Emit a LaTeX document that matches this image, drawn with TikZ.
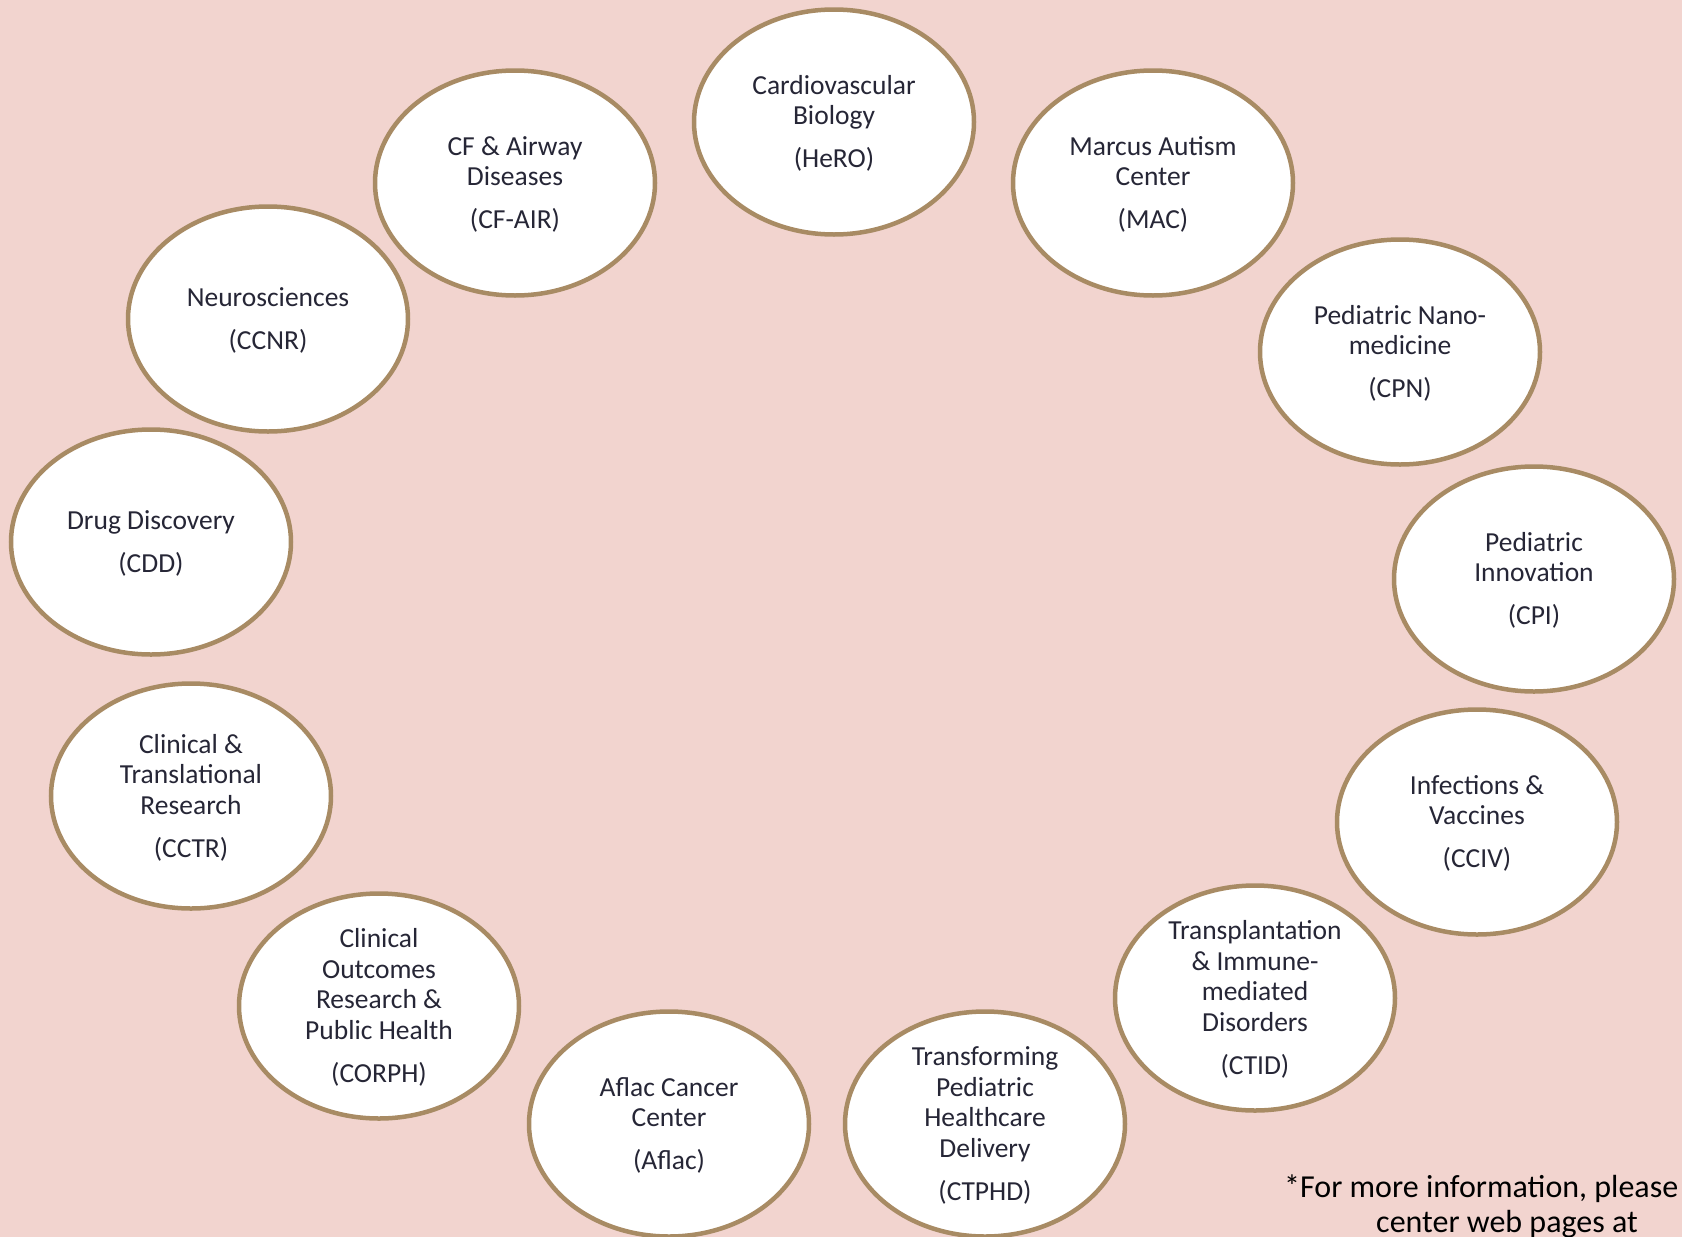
\documentclass[tikz,border=0pt]{standalone}
\usepackage{fontspec}
\setmainfont{Carlito}
\usetikzlibrary{shapes.geometric}
\definecolor{bg}{HTML}{F2D4CF}
\definecolor{rim}{HTML}{A88B64}
\definecolor{ink}{HTML}{262636}
\begin{document}
\begin{tikzpicture}[x=1pt,y=-1pt,
  hub/.style={ellipse, draw=rim, line width=4.5pt, fill=white,
    minimum width=280pt, minimum height=225pt, inner sep=0pt},
  lbl/.style={text=ink, align=center, inner sep=0pt, yshift=-1.5pt,
    font=\fontsize{27.5}{30.5}\selectfont},
  foot/.style={text=black, anchor=base west, inner sep=0pt,
    font=\fontsize{32}{35}\selectfont}]
\useasboundingbox (0,0) rectangle (1682,1237);
\clip (0,0) rectangle (1682,1237);
\fill[bg] (0,0) rectangle (1682,1237);

\node[hub] (hero) at (834,122) {};
\node[lbl] (hero-t) at (hero) {Cardiovascular\\Biology\\[12.5pt](HeRO)};

\node[hub] (cfair) at (515,183) {};
\node[lbl] (cfair-t) at (cfair) {CF \& Airway\\Diseases\\[12.5pt](CF-AIR)};

\node[hub] (mac) at (1153,183) {};
\node[lbl] (mac-t) at (mac) {Marcus Autism\\Center\\[12.5pt](MAC)};

\node[hub] (ccnr) at (268,319) {};
\node[lbl] (ccnr-t) at (ccnr) {Neurosciences\\[12.5pt](CCNR)};

\node[hub] (cpn) at (1400,352) {};
\node[lbl] (cpn-t) at (cpn) {Pediatric Nano-\\medicine\\[12.5pt](CPN)};

\node[hub] (cdd) at (151,542) {};
\node[lbl] (cdd-t) at (cdd) {Drug Discovery\\[12.5pt](CDD)};

\node[hub] (cpi) at (1534,579) {};
\node[lbl] (cpi-t) at (cpi) {Pediatric\\Innovation\\[12.5pt](CPI)};

\node[hub] (cctr) at (191,796) {};
\node[lbl] (cctr-t) at (cctr) {Clinical \&\\Translational\\Research\\[12.5pt](CCTR)};

\node[hub] (cciv) at (1477,822) {};
\node[lbl] (cciv-t) at (cciv) {Infections \&\\Vaccines\\[12.5pt](CCIV)};

\node[hub] (corph) at (379,1006) {};
\node[lbl] (corph-t) at (corph) {Clinical\\Outcomes\\Research \&\\Public Health\\[12.5pt](CORPH)};

\node[hub] (ctid) at (1255,998) {};
\node[lbl] (ctid-t) at (ctid) {Transplantation\\\& Immune-\\mediated\\Disorders\\[12.5pt](CTID)};

\node[hub] (aflac) at (669,1124) {};
\node[lbl] (aflac-t) at (aflac) {Aflac Cancer\\Center\\[12.5pt](Aflac)};

\node[hub] (ctphd) at (985,1124) {};
\node[lbl] (ctphd-t) at (ctphd) {Transforming\\Pediatric\\Healthcare\\Delivery\\[12.5pt](CTPHD)};

\node[foot] (foot1) at (1284,1197) {*For more information, please};
\node[foot] (foot2) at (1376,1232) {center web pages at};
\end{tikzpicture}
\end{document}
